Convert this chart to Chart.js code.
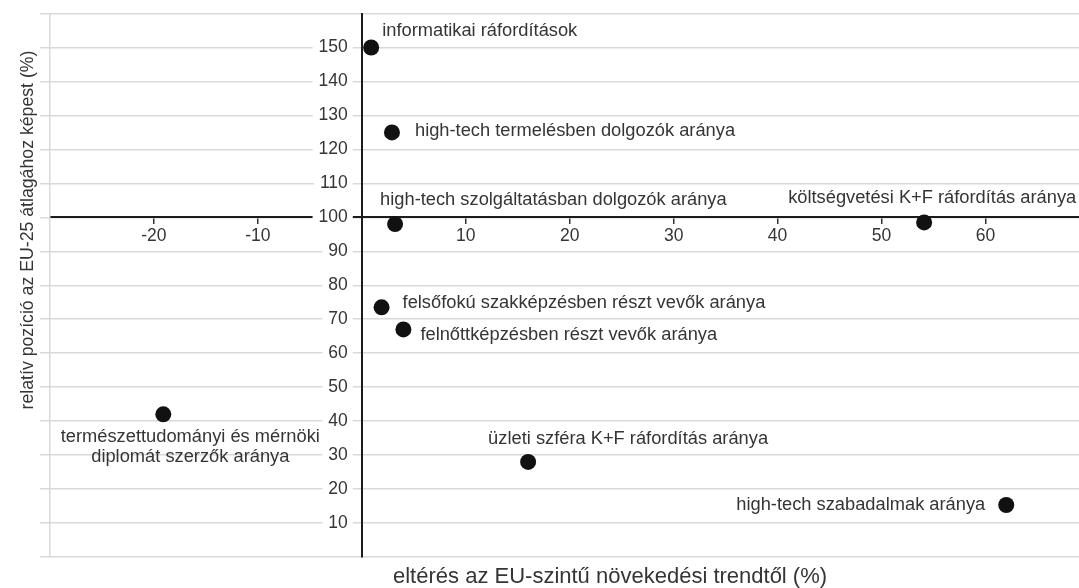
<!DOCTYPE html>
<html>
<head>
<meta charset="utf-8">
<script src="https://cdn.jsdelivr.net/npm/chart.js@4.4.0/dist/chart.umd.min.js"></script>
<style>
html,body{margin:0;padding:0;background:#fff;}
canvas{display:block;}
</style>
</head>
<body>
<canvas id="c" width="1079" height="588"></canvas>
<script>
// ---- data ----
const indicators = [
  'informatikai ráfordítások',
  'high-tech termelésben dolgozók aránya',
  'high-tech szolgáltatásban dolgozók aránya',
  'költségvetési K+F ráfordítás aránya',
  'felsőfokú szakképzésben részt vevők aránya',
  'felnőttképzésben részt vevők aránya',
  ['természettudományi és mérnöki', 'diplomát szerzők aránya'],
  'üzleti szféra K+F ráfordítás aránya',
  'high-tech szabadalmak aránya'
];
const trendDeviation = [0.9, 2.9, 3.2, 54.1, 1.9, 4, -19.1, 16, 62];
const relativePosition = [150, 125, 98, 98.5, 73.5, 67, 42, 28, 15.3];
const xTickValues = [-20, -10, 0, 10, 20, 30, 40, 50, 60];
const yTickValues = [10, 20, 30, 40, 50, 60, 70, 80, 90, 100, 110, 120, 130, 140, 150];
const yGridValues = [0, 10, 20, 30, 40, 50, 60, 70, 80, 90, 100, 110, 120, 130, 140, 150, 160];
const xTitle = 'eltérés az EU-szintű növekedési trendtől (%)';
const yTitle = 'relatív pozíció az EU-25 átlagához képest (%)';

// ---- label placement (style only) ----
const labelPlacement = [
  {align: 'left', dx: 11, dy: -17},
  {align: 'left', dx: 23, dy: -1},
  {align: 'left', dx: -15, dy: -24},
  {align: 'left', dx: -136, dy: -24},
  {align: 'left', dx: 21, dy: -4},
  {align: 'left', dx: 17, dy: 6},
  {align: 'center', dx: 27, dy: 23},
  {align: 'left', dx: -40, dy: -23},
  {align: 'right', dx: -21, dy: 0}
];

const FONT = '"Liberation Sans", Arial, Helvetica, sans-serif';
const TEXT = '#353535';
const GRID = '#d9d9d9';
const AXIS = '#1c1c1c';

const pointLabels = {
  id: 'pointLabels',
  afterDatasetsDraw(chart) {
    const ctx = chart.ctx;
    const meta = chart.getDatasetMeta(0);
    ctx.save();
    ctx.font = '18.3px ' + FONT;
    ctx.fillStyle = TEXT;
    ctx.textBaseline = 'middle';
    meta.data.forEach((pt, i) => {
      const p = labelPlacement[i];
      const lines = [].concat(indicators[i]);
      ctx.textAlign = p.align;
      lines.forEach((line, j) => ctx.fillText(line, pt.x + p.dx, pt.y + p.dy + j * 20));
    });
    ctx.restore();
  }
};

const axisTitles = {
  id: 'axisTitles',
  afterDraw(chart) {
    const ctx = chart.ctx;
    ctx.save();
    ctx.fillStyle = TEXT;
    ctx.textBaseline = 'middle';
    ctx.font = '17.7px ' + FONT;
    ctx.translate(28, 230);
    ctx.rotate(-Math.PI / 2);
    ctx.textAlign = 'center';
    ctx.fillText(yTitle, 0, 0);
    ctx.restore();
    ctx.save();
    ctx.fillStyle = TEXT;
    ctx.textBaseline = 'middle';
    ctx.textAlign = 'left';
    ctx.font = '22px ' + FONT;
    ctx.fillText(xTitle, 393, 577);
    ctx.restore();
  }
};

const noPad = s => { s.paddingLeft = 0; s.paddingRight = 0; s.paddingTop = 0; s.paddingBottom = 0; };

new Chart(document.getElementById('c'), {
  type: 'scatter',
  data: {
    datasets: [{
      data: trendDeviation.map((x, i) => ({x: x, y: relativePosition[i]})),
      backgroundColor: '#111',
      borderWidth: 0,
      pointRadius: 8,
      pointHoverRadius: 8
    }]
  },
  options: {
    responsive: false,
    animation: false,
    devicePixelRatio: 1,
    events: [],
    layout: {autoPadding: false, padding: {left: 40, right: 0, top: 13.5, bottom: 31}},
    plugins: {legend: {display: false}, tooltip: {enabled: false}},
    scales: {
      x: {
        type: 'linear', min: -30, max: 69,
        position: {y: 100},
        afterFit: s => { noPad(s); s.height = 0; },
        afterBuildTicks: s => { s.ticks = xTickValues.map(v => ({value: v})); },
        grid: {drawOnChartArea: false, drawTicks: true, tickLength: 6, color: '#333', lineWidth: 1.5},
        border: {display: true, color: AXIS, width: 2},
        ticks: {
          padding: 2, color: TEXT, autoSkip: false, maxRotation: 0,
          font: {family: FONT, size: 17.5},
          callback: v => (v === 0 ? '' : String(v))
        }
      },
      y: {
        type: 'linear', min: 0, max: 160,
        position: {x: 0},
        afterFit: s => { noPad(s); s.width = 0; },
        afterBuildTicks: s => { s.ticks = yGridValues.map(v => ({value: v})); },
        grid: {color: GRID, lineWidth: 1.5, drawTicks: false},
        border: {display: true, color: AXIS, width: 2},
        ticks: {display: false}
      },
      yLabels: {
        type: 'linear', min: 0, max: 160,
        position: {x: -1.35},
        afterFit: s => { noPad(s); s.width = 0; },
        afterBuildTicks: s => { s.ticks = yTickValues.map(v => ({value: v})); },
        grid: {display: false, drawTicks: false},
        border: {display: false},
        ticks: {
          padding: 0, z: 1, color: TEXT,
          font: {family: FONT, size: 17.5},
          showLabelBackdrop: true,
          backdropColor: '#fff',
          backdropPadding: {left: 6, right: 5, top: 0, bottom: 0},
          callback: v => String(v)
        }
      },
      yFrame: {
        type: 'linear', min: 0, max: 160,
        position: 'left',
        afterFit: s => { noPad(s); },
        afterBuildTicks: s => { s.ticks = yGridValues.map(v => ({value: v})); },
        ticks: {display: false},
        grid: {drawOnChartArea: false, drawTicks: true, tickLength: 10, color: GRID, lineWidth: 1.5},
        border: {display: true, color: GRID, width: 1.5}
      }
    }
  },
  plugins: [pointLabels, axisTitles]
});
</script>
</body>
</html>
